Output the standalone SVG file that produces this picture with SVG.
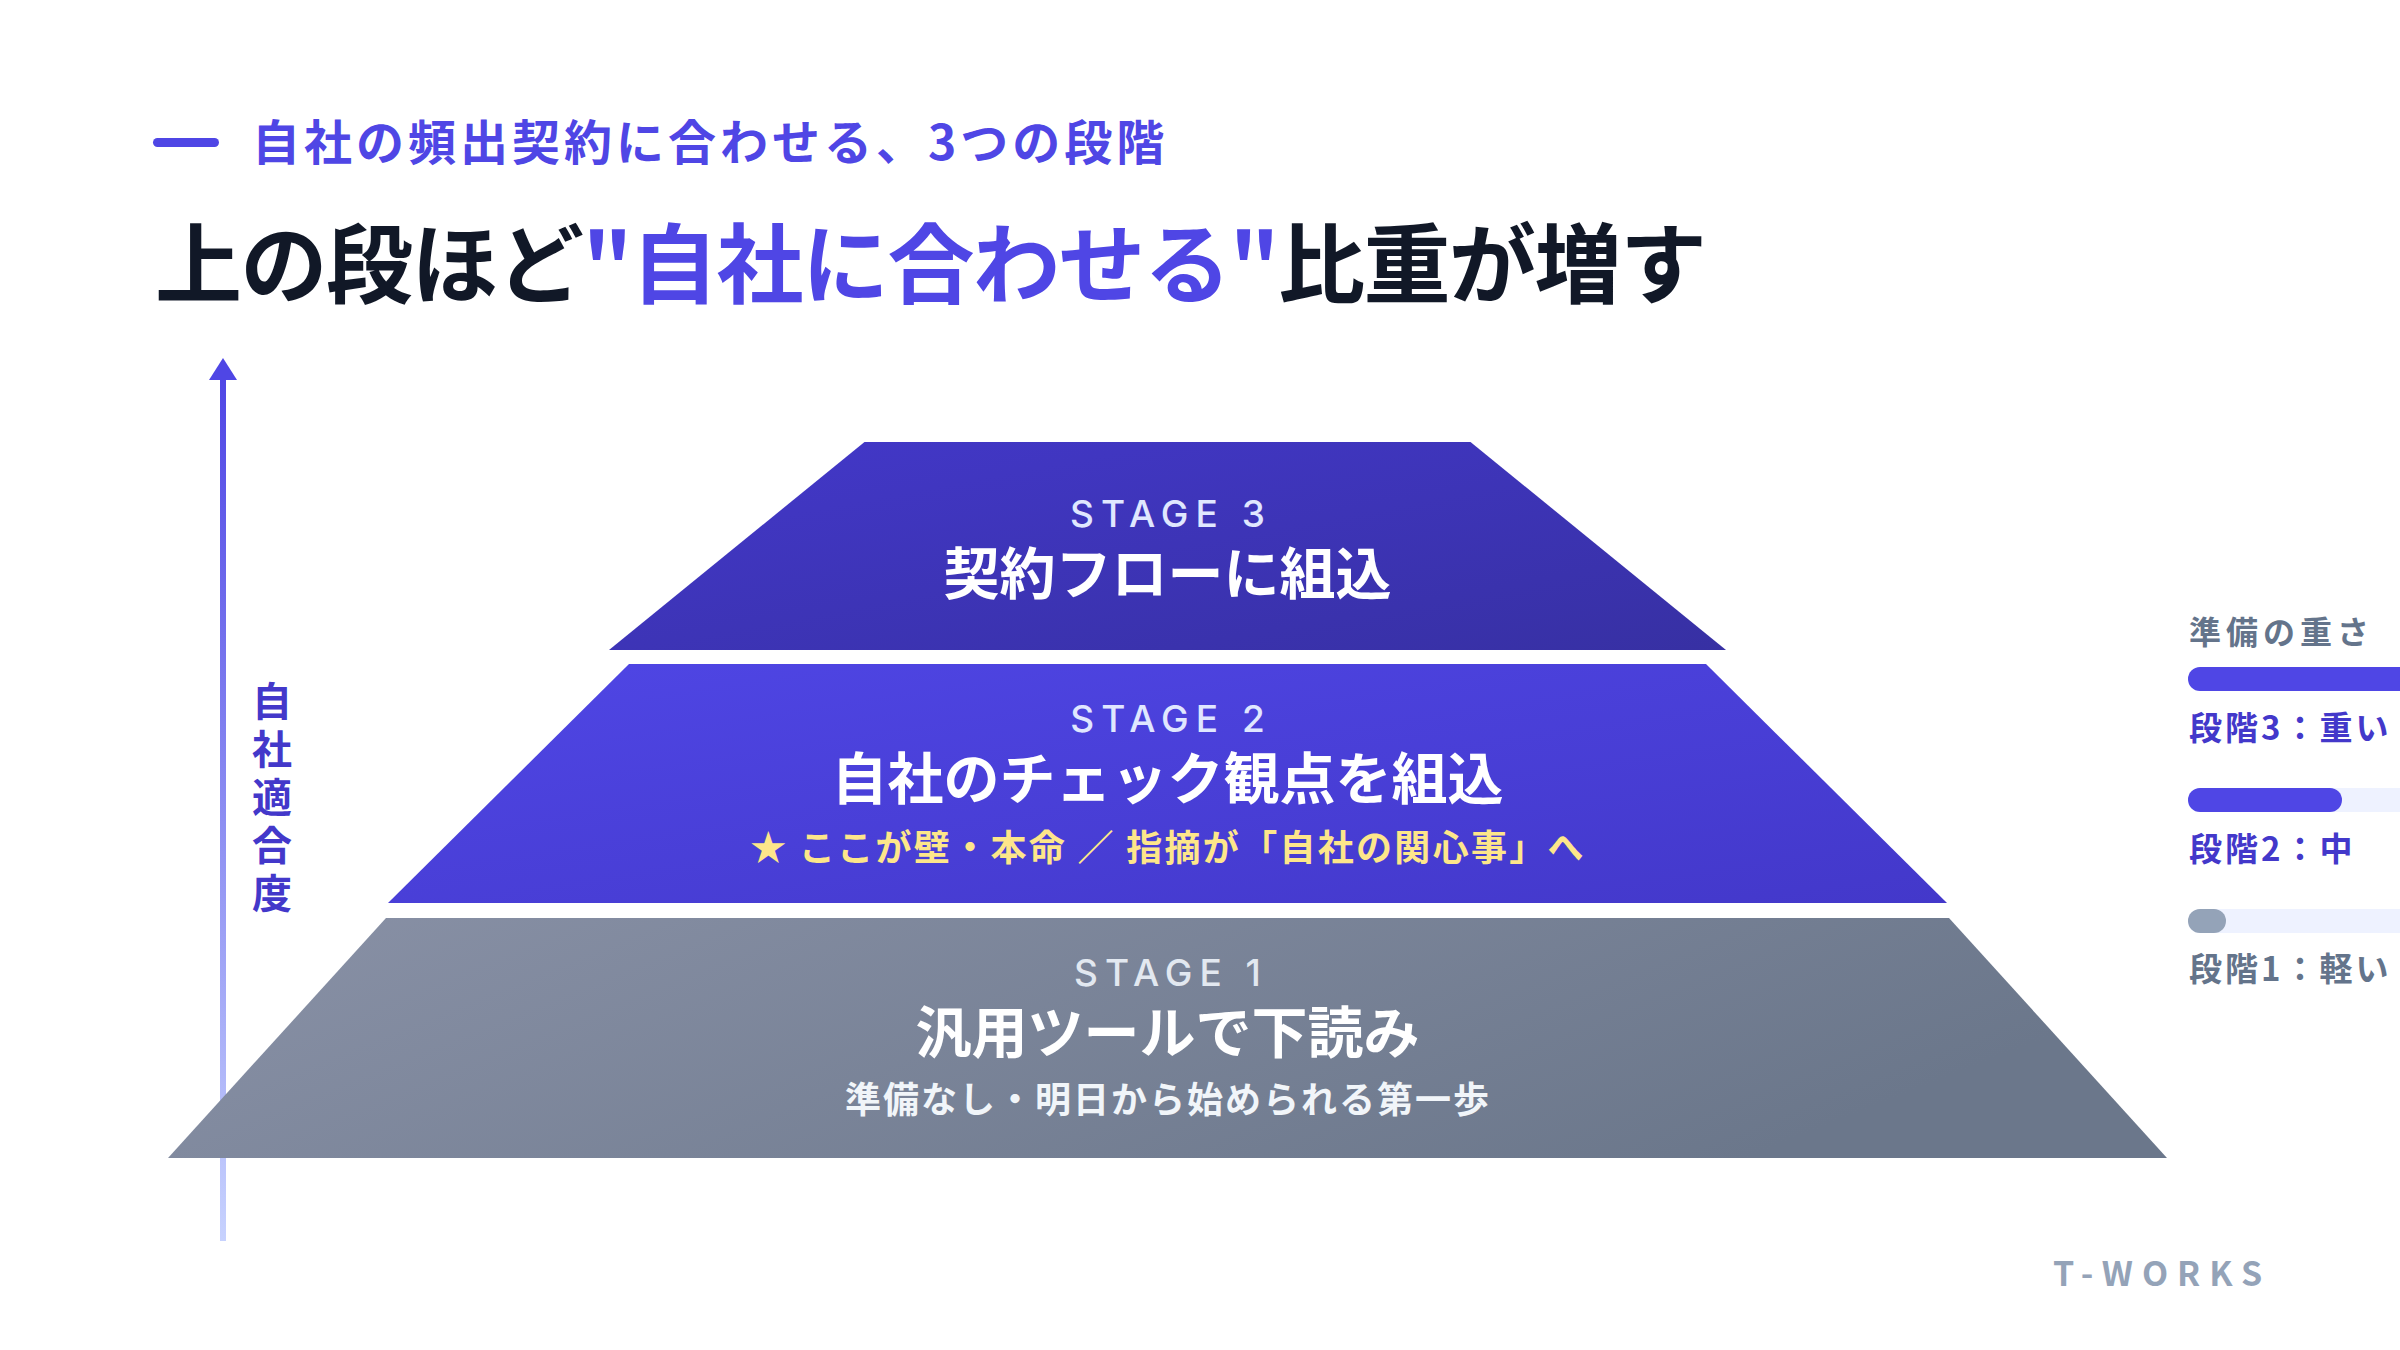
<svg xmlns="http://www.w3.org/2000/svg" width="2400" height="1350" viewBox="0 0 2400 1350">
<defs>
<linearGradient id="g3" x1="0" y1="0" x2="1" y2="1"><stop offset="0" stop-color="#4338CA"/><stop offset="1" stop-color="#3730A3"/></linearGradient>
<linearGradient id="g2" x1="0" y1="0" x2="1" y2="1"><stop offset="0" stop-color="#4F46E5"/><stop offset="1" stop-color="#4338CA"/></linearGradient>
<linearGradient id="g1" x1="0" y1="0" x2="1" y2="0.3"><stop offset="0" stop-color="#8991A6"/><stop offset="1" stop-color="#6B778B"/></linearGradient>
<linearGradient id="ax" x1="0" y1="0" x2="0" y2="1"><stop offset="0" stop-color="#4F46E5"/><stop offset="1" stop-color="#C7D2FE"/></linearGradient>
<style>
text{font-family:"Noto Sans CJK JP","Noto Sans",sans-serif;}
.stage{font-family:Inter,"Liberation Sans",sans-serif;font-size:37px;font-weight:500;letter-spacing:7px;text-anchor:middle;fill:#E0E7FF;}
.name{font-size:56px;font-weight:700;text-anchor:middle;fill:#FFFFFF;}
.leg{font-size:33px;font-weight:700;letter-spacing:3px;}
.ax{font-size:40px;font-weight:700;fill:#4338CA;text-anchor:middle;}
</style>
</defs>
<rect width="2400" height="1350" fill="#FFFFFF"/>
<g id="header">
<rect x="153" y="138" width="66" height="9" rx="4.5" fill="#4F46E5"/>
<text x="252" y="160" font-size="48" font-weight="700" fill="#4F46E5" letter-spacing="4">自社の頻出契約に合わせる、3つの段階</text>
<text x="155" y="297" font-size="87" font-weight="700" fill="#111827" letter-spacing="-1.5">上の段ほど<tspan fill="#4F46E5">"自社に合わせる"</tspan>比重が増す</text>
</g>
<g id="connectors">
<rect x="220" y="378" width="6" height="863" fill="url(#ax)"/>
<polygon points="223,358 237,380 209,380" fill="#4F46E5"/>
</g>
<g id="axis-label">
<text class="ax" x="272" y="716">自</text>
<text class="ax" x="272" y="764">社</text>
<text class="ax" x="272" y="812">適</text>
<text class="ax" x="272" y="860">合</text>
<text class="ax" x="272" y="908">度</text>
</g>
<g id="stage3">
<polygon points="864.5,442 1470.5,442 1726,650 609,650" fill="url(#g3)"/>
<text class="stage" x="1171" y="527">STAGE 3</text>
<text class="name" x="1167.5" y="594">契約フローに組込</text>
</g>
<g id="stage2">
<polygon points="629,664 1706,664 1947,903 388,903" fill="url(#g2)"/>
<text class="stage" x="1171" y="732">STAGE 2</text>
<text class="name" x="1167.5" y="799">自社のチェック観点を組込</text>
<text x="1168" y="861" font-size="36" font-weight="700" fill="#FDE68A" text-anchor="middle" letter-spacing="2.3">★ ここが壁・本命 ／ 指摘が「自社の関心事」へ</text>
</g>
<g id="stage1">
<polygon points="386,918 1949,918 2167,1158 168,1158" fill="url(#g1)"/>
<text class="stage" x="1171" y="986" style="fill:#E2E8F0">STAGE 1</text>
<text class="name" x="1167.5" y="1053">汎用ツールで下読み</text>
<text x="1168" y="1113" font-size="36" font-weight="700" fill="#F1F5F9" text-anchor="middle" letter-spacing="2">準備なし・明日から始められる第一歩</text>
</g>
<g id="legend">
<text x="2189" y="644" font-size="32" font-weight="700" fill="#64748B" letter-spacing="5">準備の重さ</text>
<rect x="2188" y="667" width="260" height="24" rx="12" fill="#4F46E5"/>
<text class="leg" x="2189" y="740" fill="#4338CA">段階3：重い</text>
<rect x="2188" y="788" width="260" height="24" rx="12" fill="#EEF2FF"/>
<rect x="2188" y="788" width="154" height="24" rx="12" fill="#4F46E5"/>
<text class="leg" x="2189" y="861" fill="#4338CA">段階2：中</text>
<rect x="2188" y="909" width="260" height="24" rx="12" fill="#EEF2FF"/>
<rect x="2188" y="909" width="38" height="24" rx="12" fill="#94A3B8"/>
<text class="leg" x="2189" y="981" fill="#64748B">段階1：軽い</text>
</g>
<g id="footer">
<text x="2053" y="1286" font-family="Inter,'Liberation Sans',sans-serif" font-size="34" font-weight="600" fill="#94A3B8" letter-spacing="9">T-WORKS</text>
</g>
</svg>
